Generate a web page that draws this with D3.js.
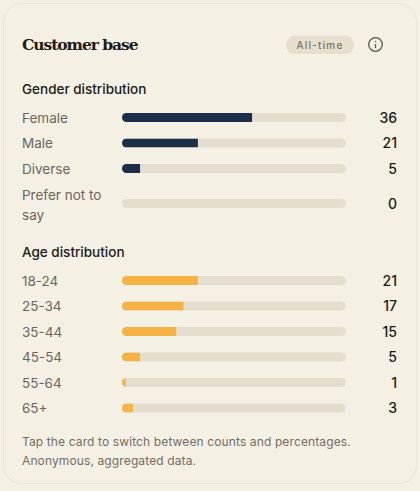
<!DOCTYPE html>
<html><head><meta charset="UTF-8">
<style>
html, body { margin: 0; padding: 0; background: #f5f0e4; }
svg { display: block; }
text { font-family: Inter, sans-serif; }
.title { font-family: "DejaVu Serif", serif; font-weight: 700; font-size: 15.5px; fill: #1f1b14; letter-spacing: -1.05px; }
.section { font-size: 13.5px; font-weight: 500; fill: #1c1a15; }
.label { font-size: 13.5px; fill: #6b665c; }
.value { font-size: 14px; font-weight: 500; fill: #1c1a15; text-anchor: end; }
.note { font-size: 12px; fill: #736e64; letter-spacing: 0.12px; }
.badge { font-size: 10px; font-weight: 500; fill: #7a7365; letter-spacing: 1.2px; text-anchor: middle; }
.track { fill: #e4dece; }
</style>
<script src="https://cdn.jsdelivr.net/npm/d3@7"></script>
</head><body>
<div id="chart"></div>
<script>
var genderLabels = ["Female", "Male", "Diverse", "Prefer not to say"];
var genderValues = [36, 21, 5, 0];
var ageLabels = ["18-24", "25-34", "35-44", "45-54", "55-64", "65+"];
var ageValues = [21, 17, 15, 5, 1, 3];
var genderColor = "#1c2f4a";
var ageColor = "#f4b344";

var width = 420, height = 491;

var svg = d3.select("#chart").append("svg")
    .attr("width", width)
    .attr("height", height);

// card
svg.append("rect")
    .attr("x", 3.5).attr("y", 3.5)
    .attr("width", width - 7).attr("height", height - 11)
    .attr("rx", 18)
    .attr("fill", "#f5f0e4")
    .attr("stroke", "#ece6d8");

svg.append("text").attr("class", "title").attr("x", 22).attr("y", 50).text("Customer base");

// badge
svg.append("rect").attr("x", 286).attr("y", 35.5).attr("width", 68).attr("height", 18.5).attr("rx", 9.25).attr("fill", "#e6dfcd");
svg.append("text").attr("class", "badge").attr("x", 320).attr("y", 48.5).text("All-time");

// info icon
var info = svg.append("g").attr("transform", "translate(375.5,44.5)");
info.append("circle").attr("r", 6.8).attr("fill", "none").attr("stroke", "#5c574d").attr("stroke-width", 1.3);
info.append("line").attr("y1", -0.5).attr("y2", 3.5).attr("stroke", "#5c574d").attr("stroke-width", 1.3);
info.append("circle").attr("cy", -3).attr("r", 0.8).attr("fill", "#5c574d");

// both sections share the same total
var total = d3.sum(genderValues);
var x = d3.scaleLinear().domain([0, total]).range([122, 346]);
var barH = 9;

function section(name, title, titleY, labels, values, ys, color) {
  svg.append("text").attr("class", "section").attr("x", 22).attr("y", titleY).text(title);

  var y = d3.scaleOrdinal().domain(labels).range(ys);

  var row = svg.selectAll(".row-" + name)
      .data(labels)
      .enter().append("g")
      .attr("class", "row-" + name)
      .attr("transform", function(d) { return "translate(0," + y(d) + ")"; });

  row.each(function(d, i) {
    var g = d3.select(this);
    var clipId = "clip-" + name + "-" + i;
    g.append("clipPath").attr("id", clipId).append("rect")
        .attr("x", x(0)).attr("y", -barH / 2)
        .attr("width", x(total) - x(0)).attr("height", barH).attr("rx", barH / 2);
    g.append("rect").attr("class", "track")
        .attr("x", x(0)).attr("y", -barH / 2)
        .attr("width", x(total) - x(0)).attr("height", barH).attr("rx", barH / 2);
    g.append("rect")
        .attr("x", x(0)).attr("y", -barH / 2)
        .attr("width", x(values[i]) - x(0)).attr("height", barH)
        .attr("fill", color)
        .attr("clip-path", "url(#" + clipId + ")");
    g.append("text").attr("class", "value").attr("x", 397).attr("y", 5).text(values[i]);

    // long labels wrap onto two lines
    if (d === "Prefer not to say") {
      g.append("text").attr("class", "label").attr("x", 22).attr("y", -4).text("Prefer not to");
      g.append("text").attr("class", "label").attr("x", 22).attr("y", 16).text("say");
    } else {
      g.append("text").attr("class", "label").attr("x", 22).attr("y", 5).text(d);
    }
  });
}

section("gender", "Gender distribution", 94, genderLabels, genderValues, [117.5, 143, 168.5, 203.5], genderColor);
section("age", "Age distribution", 257, ageLabels, ageValues, [280.5, 306, 331.5, 357, 382.5, 408], ageColor);

svg.append("text").attr("class", "note").attr("x", 22).attr("y", 446).text("Tap the card to switch between counts and percentages.");
svg.append("text").attr("class", "note").attr("x", 22).attr("y", 465).text("Anonymous, aggregated data.");
</script>
</body></html>
